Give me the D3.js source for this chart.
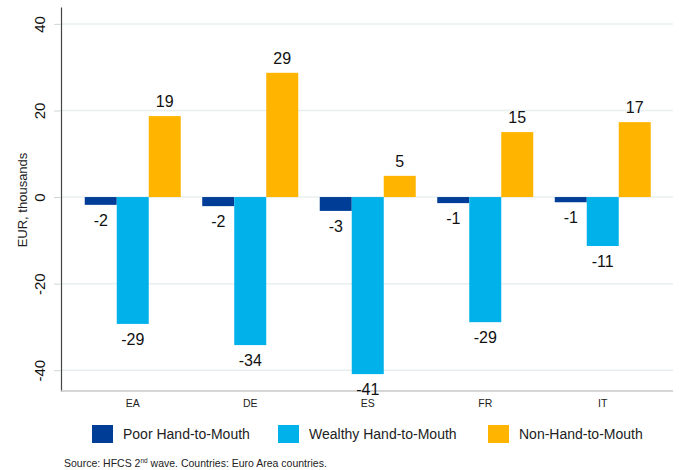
<!DOCTYPE html>
<html>
<head>
<meta charset="utf-8">
<script src="https://cdn.jsdelivr.net/npm/d3@7"></script>
<style>
  body { margin: 0; background: #fff; }
  svg { font-family: "Liberation Sans", Arial, sans-serif; }
</style>
</head>
<body>
<div id="chart"></div>
<script>
// Data
const countries = ["EA", "DE", "ES", "FR", "IT"];
const seriesNames = ["Poor Hand-to-Mouth", "Wealthy Hand-to-Mouth", "Non-Hand-to-Mouth"];
const poorHtm = [-1.8, -2.1, -3.2, -1.4, -1.2];
const wealthyHtm = [-29.3, -34.2, -40.9, -28.9, -11.3];
const nonHtm = [18.7, 28.7, 4.9, 15.0, 17.3];
const valueLabels = [
  ["-2", "-2", "-3", "-1", "-1"],
  ["-29", "-34", "-41", "-29", "-11"],
  ["19", "29", "5", "15", "17"]
];
const yTicks = [-40, -20, 0, 20, 40];
const colors = ["#003d96", "#00b1ea", "#ffb400"];

const width = 679, height = 470;
const plotLeft = 61, plotRight = 673, plotTop = 7, plotBottom = 391;

const svg = d3.select("#chart").append("svg")
  .attr("width", width)
  .attr("height", height);

const y = d3.scaleLinear()
  .domain([-44.8, 43.9])
  .range([plotBottom, plotTop]);

const x0 = d3.scaleBand()
  .domain(countries)
  .range([74, 661.5])
  .paddingInner(0.183)
  .paddingOuter(0.0915);

const x1 = d3.scaleBand()
  .domain(d3.range(3))
  .range([0, x0.bandwidth()]);

// gridlines
svg.append("g")
  .selectAll("line")
  .data(yTicks)
  .join("line")
  .attr("x1", plotLeft)
  .attr("x2", plotRight)
  .attr("y1", d => y(d))
  .attr("y2", d => y(d))
  .attr("stroke", "#e8eff0")
  .attr("stroke-width", 1.5);

// y axis (plain hyphen for negatives, as in the original)
const yAxis = svg.append("g")
  .attr("transform", `translate(${plotLeft},0)`)
  .call(d3.axisLeft(y).tickValues(yTicks).tickFormat(d => String(d)).tickSize(7).tickSizeOuter(0));
yAxis.select(".domain").attr("stroke", "#444").attr("stroke-width", 1.2);
yAxis.selectAll(".tick line").attr("stroke", "#cfd6d8");
yAxis.selectAll(".tick text")
  .attr("x", null).attr("dy", null)
  .attr("transform", "translate(-16,0) rotate(-90)")
  .attr("text-anchor", "middle")
  .attr("font-size", 15)
  .attr("fill", "#111")
  .attr("font-family", "Liberation Sans, Arial, sans-serif");

svg.append("text")
  .attr("transform", "translate(27,200) rotate(-90)")
  .attr("text-anchor", "middle")
  .attr("font-size", 13)
  .attr("fill", "#222")
  .text("EUR, thousands");

// x axis line
svg.append("line")
  .attr("x1", plotLeft).attr("x2", plotRight)
  .attr("y1", plotBottom).attr("y2", plotBottom)
  .attr("stroke", "#c8c8c8")
  .attr("stroke-width", 1.5);

// category labels
svg.append("g")
  .selectAll("text")
  .data(countries)
  .join("text")
  .attr("x", d => x0(d) + x0.bandwidth() / 2)
  .attr("y", 407)
  .attr("text-anchor", "middle")
  .attr("font-size", 10.5)
  .attr("fill", "#222")
  .text(d => d);

// bars
const seriesValues = [poorHtm, wealthyHtm, nonHtm];
const rows = [];
countries.forEach((c, i) => {
  seriesValues.forEach((vals, s) => {
    rows.push({ country: c, s: s, v: vals[i], label: valueLabels[s][i] });
  });
});

svg.append("g")
  .selectAll("rect")
  .data(rows)
  .join("rect")
  .attr("x", d => x0(d.country) + x1(d.s))
  .attr("width", x1.bandwidth())
  .attr("y", d => y(Math.max(0, d.v)))
  .attr("height", d => Math.abs(y(d.v) - y(0)))
  .attr("fill", d => colors[d.s]);

svg.append("g")
  .selectAll("text")
  .data(rows)
  .join("text")
  .attr("x", d => x0(d.country) + x1(d.s) + x1.bandwidth() / 2)
  .attr("y", d => d.v >= 0 ? y(d.v) - 9 : y(d.v) + 21)
  .attr("text-anchor", "middle")
  .attr("font-size", 16)
  .attr("fill", "#111")
  .text(d => d.label);

// legend
const legendX = [92, 278, 488];
const legend = svg.append("g")
  .selectAll("g")
  .data(seriesNames)
  .join("g")
  .attr("transform", (d, i) => `translate(${legendX[i]},425)`);
legend.append("rect")
  .attr("width", 21).attr("height", 18)
  .attr("fill", (d, i) => colors[i]);
legend.append("text")
  .attr("x", 31).attr("y", 14)
  .attr("font-size", 14)
  .attr("fill", "#222")
  .text(d => d);

// source note
const src = svg.append("text")
  .attr("x", 64).attr("y", 467)
  .attr("font-size", 10.5)
  .attr("fill", "#222");
src.append("tspan").text("Source: HFCS 2");
src.append("tspan").attr("dy", -4).attr("font-size", 6.5).text("nd");
src.append("tspan").attr("dy", 4).text(" wave. Countries: Euro Area countries.");
</script>
</body>
</html>
